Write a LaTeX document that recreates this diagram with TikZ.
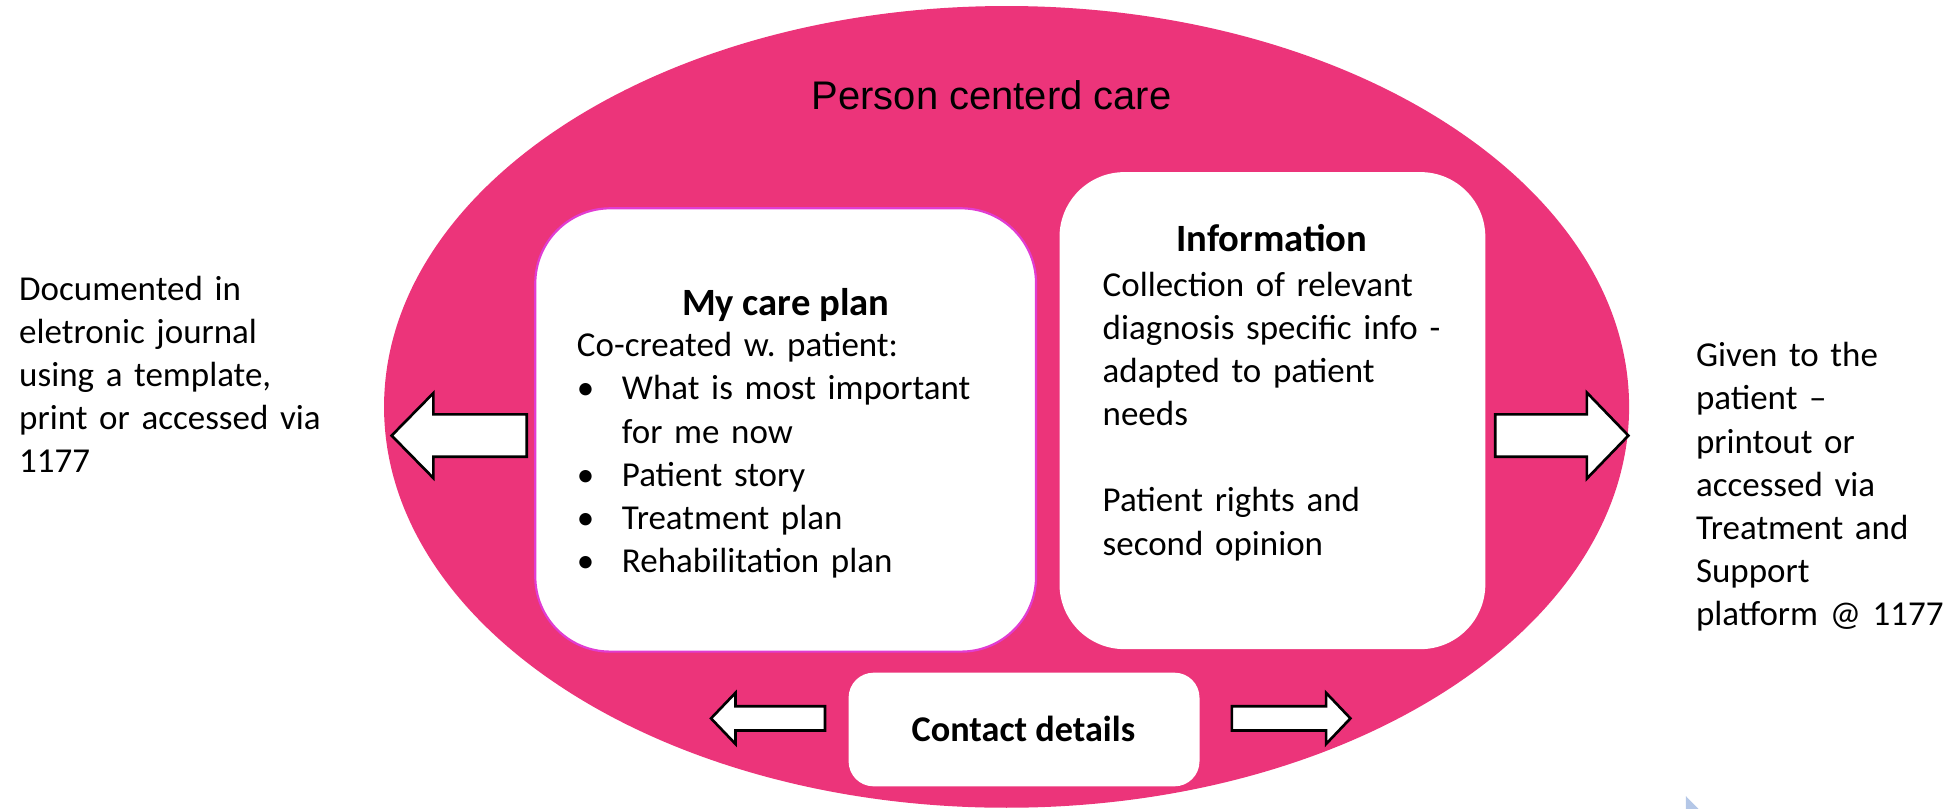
\documentclass[tikz,border=0pt]{standalone}
\usepackage{fontspec}
\setmainfont{Carlito}
\newfontfamily\arialfont{Liberation Sans}
\usetikzlibrary{positioning}
\frenchspacing

\definecolor{carepink}{RGB}{236,52,122}
\definecolor{planedge}{RGB}{225,60,210}
\definecolor{cornerblue}{RGB}{180,199,231}

% tip x, head base x, tail x, y, head half height, shaft half height
\newcommand{\blockarrow}[6]{\draw[fatarrow] (#1,#4) -- (#2,#4-#5) -- (#2,#4-#6) -- (#3,#4-#6) -- (#3,#4+#6) -- (#2,#4+#6) -- (#2,#4+#5) -- cycle;}
\newcommand{\bul}{\makebox[0.36cm][l]{\textbullet}}

\begin{document}
\begin{tikzpicture}[x=0.01cm,y=-0.01cm]

\tikzset{box/.style = {shape=rectangle, fill=white, inner sep=0pt}}
\tikzset{body/.style = {inner sep=0pt, align=left, font=\fontsize{7.97pt}{9.84pt}\selectfont}}
\tikzset{heading/.style = {inner sep=0pt, font=\fontsize{8.8pt}{10pt}\selectfont\bfseries}}
\tikzset{fatarrow/.style = {draw=black, fill=white, line width=0.6pt}}

\useasboundingbox (0,0) rectangle (1568,648);
% background
\fill[carepink] (806.5,326) ellipse [x radius=4.985cm, y radius=3.21cm];
\fill[cornerblue] (1350.7,637.8) -- (1350.7,648) -- (1360.8,648) -- cycle;
\node[inner sep=0pt, anchor=base, font=\arialfont\fontsize{9.1pt}{10pt}\selectfont] (care) at (794.5,88.1) {Person centerd care};

% boxes
\node[box, draw=planedge, line width=0.5pt, rounded corners=0.6cm, minimum width=4.01cm, minimum height=3.55cm] (plan) at (629.5,344.5) {};
\node[box, rounded corners=0.52cm, minimum width=3.41cm, minimum height=3.82cm] (info) at (1019.5,329) {};
\node[box, rounded corners=0.2cm, minimum width=2.81cm, minimum height=0.91cm] (contact) at (820.5,584.5) {};

% texts
\node[heading, anchor=base] (plantitle) at (629.5,252.4) {My care plan};
\node[body, text width=3.6cm, anchor=base west] (planlist) at (461.6,285.8) {Co-created w. patient:\\
\bul What is most important\\
\hspace*{0.36cm}for me now\\
\bul Patient story\\
\bul Treatment plan\\
\bul Rehabilitation plan};
\node[heading, anchor=base] (infotitle) at (1019,201.7) {Information};
\node[body, text width=3.0cm, anchor=base west] (infotext) at (882.8,237.2) {Collection of relevant\\
diagnosis specific info -\\
adapted to patient\\
needs\\[9.84pt]
Patient rights and\\
second opinion};
\node[heading, anchor=base, font=\fontsize{8.25pt}{10pt}\selectfont\bfseries] (contacttitle) at (820,594.3) {Contact details};
\node[body, text width=2.5cm, anchor=base west] (journal) at (14.7,240.4) {Documented in\\
eletronic journal\\
using a template,\\
print or accessed via\\
1177};
\node[body, text width=2.1cm, anchor=base west] (handout) at (1358.2,293.8) {Given to the\\
patient --\\
printout or\\
accessed via\\
Treatment and\\
Support\\
platform @ 1177};

% arrows
\blockarrow{313.8}{347.2}{422}{349}{34}{17}
\blockarrow{1304.7}{1271.4}{1198}{349}{34.5}{17}
\blockarrow{569.7}{589.3}{661}{575.6}{20.5}{9.7}
\blockarrow{1082}{1062.5}{987}{575.6}{20.5}{9.7}
\end{tikzpicture}
\end{document}
